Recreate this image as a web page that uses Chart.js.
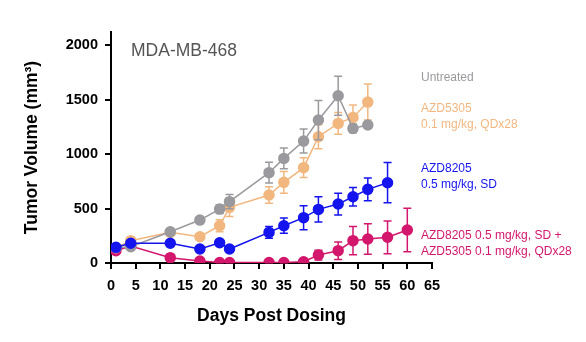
<!DOCTYPE html>
<html>
<head>
<meta charset="utf-8">
<script src="https://cdn.jsdelivr.net/npm/chart.js@4/dist/chart.umd.min.js"></script>
<style>
  html, body { margin: 0; padding: 0; background: #fff; }
  #wrap { width: 586px; height: 342px; }
</style>
</head>
<body>
<div id="wrap"><canvas id="chart"></canvas></div>
<script>
// Data
const days = [1, 4, 12, 18, 22, 24, 32, 35, 39, 42, 46, 49, 52, 56, 60];

const untreated    = [140, 150, 287, 394, 495, 563, 829, 960, 1119, 1312, 1535, 1235, 1266];
const untreatedErr = [10, 15, 20, 30, 40, 65, 95, 95, 110, 180, 180, 40, 20];

const azd5305    = [140, 205, 281, 241, 342, 511, 624, 740, 875, 1159, 1281, 1336, 1477];
const azd5305Err = [10, 15, 20, 20, 55, 85, 75, 100, 90, 110, 100, 115, 165];

const azd8205    = [144, 181, 181, 128, 186, 128, 281, 342, 416, 492, 541, 608, 676, 737];
const azd8205Err = [10, 15, 15, 15, 15, 15, 55, 70, 110, 115, 100, 85, 105, 185];

const combo    = [113, 156, 49, 18, 5, 5, 5, 5, 12, 73, 113, 205, 220, 236, 303];
const comboErr = [10, 10, 10, 5, 3, 3, 3, 3, 8, 45, 80, 130, 140, 150, 200];

const yTicks = [0, 500, 1000, 1500, 2000];

const labelLines = [
  { text: 'Untreated', y: 78, color: '#9a9a9e' },
  { text: 'AZD5305', y: 109, color: '#f2b77f' },
  { text: '0.1 mg/kg, QDx28', y: 125, color: '#f2b77f' },
  { text: 'AZD8205', y: 169, color: '#1414ee' },
  { text: '0.5 mg/kg, SD', y: 185, color: '#1414ee' },
  { text: 'AZD8205 0.5 mg/kg, SD +', y: 236, color: '#d3176d' },
  { text: 'AZD5305 0.1 mg/kg, QDx28', y: 252, color: '#d3176d' },
];

const FONT = "'Liberation Sans', Arial, sans-serif";

function series(label, values, errs, color) {
  return {
    label,
    data: values.map((v, i) => ({ x: days[i], y: v, err: errs[i] })),
    borderColor: color,
    backgroundColor: color,
    pointBackgroundColor: color,
    pointBorderColor: color,
    borderWidth: 1.5,
    pointRadius: 5,
    tension: 0,
    errColor: color,
  };
}

const errorBars = {
  id: 'errorBars',
  beforeDatasetDraw(chart, args) {
    const ds = chart.data.datasets[args.index];
    const ctx = chart.ctx;
    const x = chart.scales.x, y = chart.scales.y;
    ctx.save();
    ctx.strokeStyle = ds.errColor;
    ctx.lineWidth = 1.5;
    ds.data.forEach(p => {
      const px = x.getPixelForValue(p.x);
      const top = y.getPixelForValue(p.y + p.err);
      const bot = y.getPixelForValue(Math.max(0, p.y - p.err));
      ctx.beginPath();
      ctx.moveTo(px, top); ctx.lineTo(px, bot);
      ctx.moveTo(px - 4, top); ctx.lineTo(px + 4, top);
      ctx.moveTo(px - 4, bot); ctx.lineTo(px + 4, bot);
      ctx.stroke();
    });
    ctx.restore();
  }
};

const sideText = {
  id: 'sideText',
  afterDraw(chart) {
    const ctx = chart.ctx;
    ctx.save();
    ctx.font = '17.5px ' + FONT;
    ctx.fillStyle = '#555555';
    ctx.textBaseline = 'middle';
    ctx.fillText('MDA-MB-468', 131, 51);
    ctx.font = '12px ' + FONT;
    labelLines.forEach(l => {
      ctx.fillStyle = l.color;
      ctx.fillText(l.text, 421, l.y);
    });
    ctx.restore();
  }
};

new Chart(document.getElementById('chart'), {
  type: 'line',
  data: {
    datasets: [
      series('AZD8205 0.5 mg/kg, SD', azd8205, azd8205Err, '#1414ee'),
      series('Untreated', untreated, untreatedErr, '#9a9a9e'),
      series('AZD5305 0.1 mg/kg, QDx28', azd5305, azd5305Err, '#f2b77f'),
      series('AZD8205 + AZD5305', combo, comboErr, '#d3176d'),
    ],
  },
  options: {
    responsive: true,
    maintainAspectRatio: false,
    animation: false,
    layout: { padding: { left: 0, top: 32, right: 154, bottom: 0 } },
    plugins: { legend: { display: false }, tooltip: { enabled: false } },
    scales: {
      x: {
        type: 'linear',
        min: 0,
        max: 65,
        afterFit: s => { s.height = 79; },
        border: { display: true, color: '#000', width: 2 },
        grid: { drawOnChartArea: false, drawTicks: true, tickLength: 6, color: '#000', lineWidth: 2 },
        ticks: { stepSize: 5, color: '#000', padding: 8, maxRotation: 0, font: { family: FONT, size: 14.5, weight: 'bold' } },
        title: { display: true, text: 'Days Post Dosing', color: '#000', padding: { top: 8, bottom: 15 }, font: { family: FONT, size: 17.5, weight: 'bold' } },
      },
      y: {
        min: 0,
        max: 2120,
        afterFit: s => { s.width = 111; },
        afterBuildTicks: s => { s.ticks = yTicks.map(v => ({ value: v })); },
        border: { display: true, color: '#000', width: 2 },
        grid: { drawOnChartArea: false, drawTicks: true, tickLength: 6, color: '#000', lineWidth: 2 },
        ticks: { color: '#000', padding: 7, callback: v => String(v), font: { family: FONT, size: 14.5, weight: 'bold' } },
        title: { display: true, text: 'Tumor Volume (mm³)', color: '#000', padding: { top: 22, bottom: 0 }, font: { family: FONT, size: 17.5, weight: 'bold' } },
      },
    },
  },
  plugins: [errorBars, sideText],
});
</script>
</body>
</html>
